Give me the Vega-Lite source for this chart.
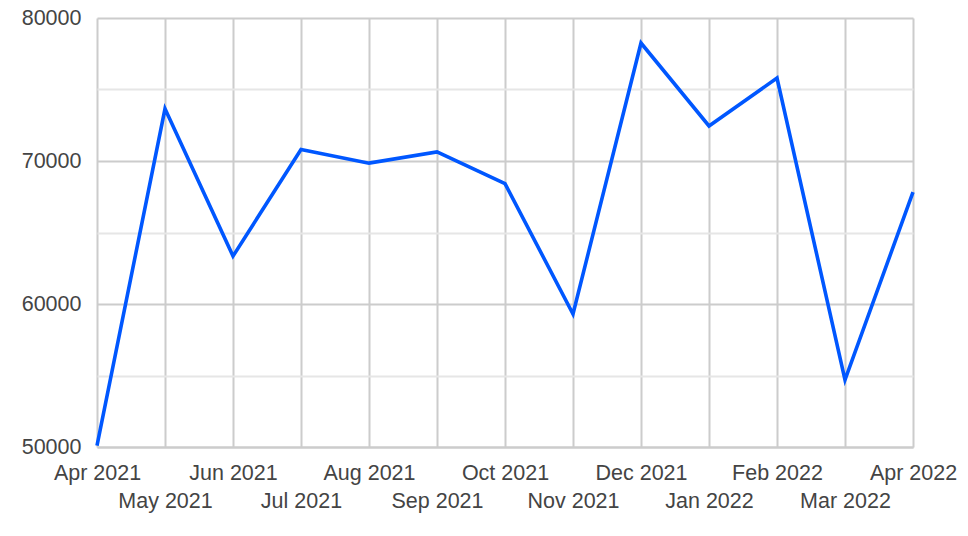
{
  "$schema": "https://vega.github.io/schema/vega-lite/v6.json",
  "width": 816,
  "height": 429,
  "autosize": {"type": "none"},
  "padding": {"left": 97, "top": 18, "right": 55, "bottom": 89},
  "background": "white",
  "config": {
    "view": {"stroke": null},
    "font": "Liberation Sans"
  },
  "data": {
    "values": [
      {"month": "Apr 2021", "value": 50100},
      {"month": "May 2021", "value": 73650},
      {"month": "Jun 2021", "value": 63350},
      {"month": "Jul 2021", "value": 70800},
      {"month": "Aug 2021", "value": 69850},
      {"month": "Sep 2021", "value": 70630},
      {"month": "Oct 2021", "value": 68420},
      {"month": "Nov 2021", "value": 59300},
      {"month": "Dec 2021", "value": 78250},
      {"month": "Jan 2022", "value": 72450},
      {"month": "Feb 2022", "value": 75800},
      {"month": "Mar 2022", "value": 54700},
      {"month": "Apr 2022", "value": 67820}
    ]
  },
  "mark": {"type": "line", "color": "#0057ff", "strokeWidth": 3.6, "strokeJoin": "miter"},
  "encoding": {
    "x": {
      "field": "month",
      "type": "ordinal",
      "sort": null,
      "scale": {"type": "point", "padding": 0},
      "axis": {
        "title": null,
        "labelAngle": 0,
        "grid": true,
        "gridColor": "#cccccc",
        "gridWidth": 2,
        "domain": true,
        "domainColor": "#cccccc",
        "domainWidth": 2,
        "ticks": false,
        "labelFont": "Liberation Sans",
        "labelFontSize": 21.5,
        "labelColor": "#444444",
        "labelPadding": 15,
        "labelLineHeight": 28,
        "labelBaseline": "top",
        "labelOverlap": false,
        "labelBound": false,
        "labelFlush": false,
        "labelExpr": "indexof(['May 2021','Jul 2021','Sep 2021','Nov 2021','Jan 2022','Mar 2022'], datum.value) >= 0 ? ['', datum.value] : datum.value"
      }
    },
    "y": {
      "field": "value",
      "type": "quantitative",
      "scale": {"domain": [50000, 80000], "nice": false, "zero": false},
      "axis": {
        "title": null,
        "values": [50000, 55000, 60000, 65000, 70000, 75000, 80000],
        "format": "d",
        "labelExpr": "datum.value % 10000 == 0 ? datum.label : ''",
        "grid": true,
        "gridColor": {"condition": {"test": "datum.value % 10000 != 0", "value": "#e6e6e6"}, "value": "#cccccc"},
        "gridWidth": 2,
        "domain": false,
        "ticks": false,
        "labelFont": "Liberation Sans",
        "labelFontSize": 21.5,
        "labelColor": "#444444",
        "labelPadding": 16,
        "labelBaseline": "middle"
      }
    }
  }
}
